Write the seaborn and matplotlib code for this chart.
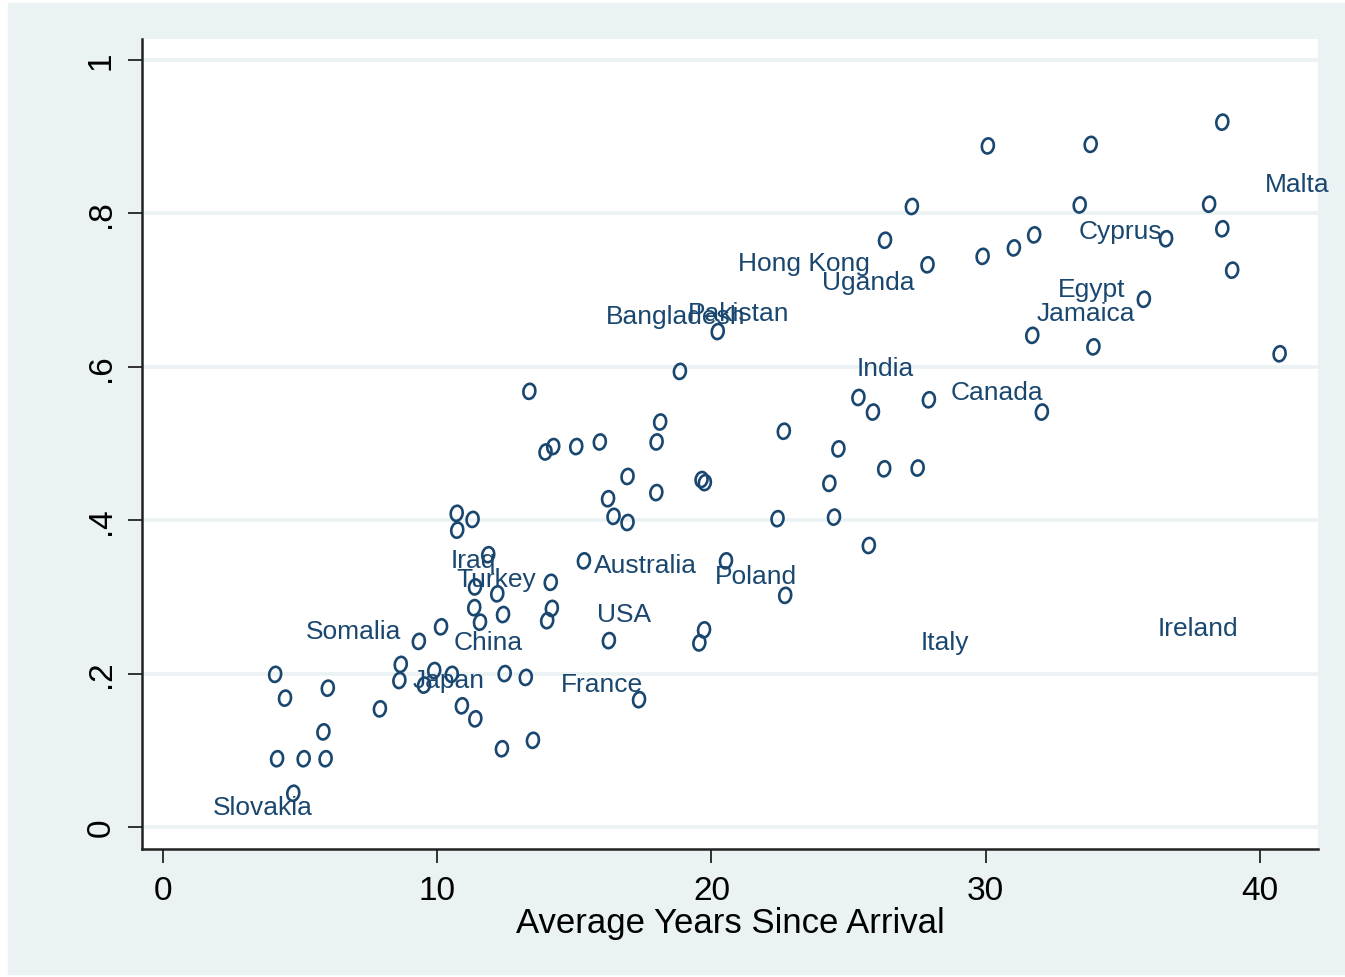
import numpy as np
import pandas as pd
import matplotlib.pyplot as plt
import seaborn as sns
from matplotlib.path import Path
from matplotlib.transforms import Affine2D

#-----------------------------------------------------------------------
# Data
years = [38.63, 30.08, 33.83, 27.31, 33.43, 38.15, 26.33, 31.77, 31.03, 29.89,
         27.88, 36.58, 38.63, 38.99, 35.77, 31.70, 33.93, 40.72, 25.36, 25.89,
         27.93, 32.05, 22.64, 24.63, 26.30, 27.52, 24.30, 22.41, 24.47, 25.74,
         20.23, 18.85, 18.13, 18.00, 15.93, 15.07, 14.23, 13.95, 13.36, 16.94,
         16.23, 17.99, 19.64, 19.76, 16.43, 16.94, 15.35, 20.53, 22.69, 16.26,
         19.73, 19.56, 17.36, 10.71, 11.29, 10.73, 11.86, 14.14, 11.38, 12.19,
         11.35, 12.40, 14.18, 14.01, 11.56, 10.14, 9.33, 8.67, 8.62, 9.89,
         10.53, 9.52, 12.46, 13.23, 4.09, 4.45, 6.01, 7.91, 10.90, 11.39,
         5.85, 4.16, 5.13, 5.93, 12.36, 13.49, 4.75]
share = [0.919, 0.888, 0.890, 0.809, 0.811, 0.812, 0.765, 0.772, 0.755, 0.744,
         0.733, 0.767, 0.780, 0.726, 0.688, 0.641, 0.626, 0.617, 0.560, 0.541,
         0.557, 0.541, 0.516, 0.493, 0.467, 0.468, 0.448, 0.402, 0.404, 0.367,
         0.646, 0.594, 0.528, 0.502, 0.502, 0.496, 0.496, 0.489, 0.568, 0.457,
         0.428, 0.436, 0.453, 0.449, 0.405, 0.397, 0.347, 0.347, 0.302, 0.243,
         0.257, 0.240, 0.166, 0.409, 0.401, 0.387, 0.355, 0.319, 0.313, 0.304,
         0.286, 0.277, 0.285, 0.269, 0.267, 0.261, 0.242, 0.212, 0.191, 0.204,
         0.199, 0.185, 0.200, 0.195, 0.199, 0.168, 0.181, 0.154, 0.158, 0.141,
         0.124, 0.089, 0.089, 0.089, 0.102, 0.113, 0.044]

countries = ['Malta', 'Cyprus', 'Hong Kong', 'Uganda', 'Egypt', 'Jamaica',
             'Bangladesh', 'Pakistan', 'India', 'Canada', 'Australia', 'Poland',
             'Iraq', 'Turkey', 'USA', 'Somalia', 'China', 'Italy', 'Ireland',
             'Japan', 'France', 'Slovakia']
country_years = [41.35, 34.92, 23.37, 25.73, 33.86, 33.64, 18.69, 20.98, 26.33, 30.41,
                 17.60, 21.61, 11.31, 12.17, 16.81, 6.94, 11.86, 28.51, 37.74,
                 10.40, 16.02, 3.64]
country_share = [0.841, 0.780, 0.738, 0.714, 0.705, 0.674, 0.670, 0.674, 0.602, 0.571,
                 0.345, 0.331, 0.352, 0.327, 0.281, 0.259, 0.244, 0.245, 0.263,
                 0.195, 0.190, 0.029]

y_ticks = [0, 0.2, 0.4, 0.6, 0.8, 1]
y_tick_labels = ['0', '.2', '.4', '.6', '.8', '1']
x_ticks = [0, 10, 20, 30, 40]

df = pd.DataFrame({'years': years, 'share': share})

#-----------------------------------------------------------------------
# Style
sns.set_theme(style="white")
plt.rcParams['font.family'] = ['Liberation Sans', 'DejaVu Sans']

navy = '#1A476F'
bg = '#EAF2F3'
axis_col = '#222222'

# slanted oval marker, like the "0" symbol in the original
circle = Path.unit_circle()
oval = Affine2D().scale(0.78, 1.0).rotate_deg(-10).transform_path(circle)

fig = plt.figure(figsize=(13.45, 9.78), dpi=100, facecolor='white')
fig.patches.append(plt.Rectangle((8 / 1345, 3 / 978), 1, 1 - 7 / 978,
                                 transform=fig.transFigure, color=bg, zorder=-10))
ax = fig.add_axes([142 / 1345, 128 / 978, 1176 / 1345, 810 / 978])
ax.set_facecolor('white')

#-----------------------------------------------------------------------
# Plot
sns.scatterplot(data=df, x='years', y='share', marker=oval,
                s=125, facecolor='none', edgecolor=navy, linewidth=1.9, ax=ax, zorder=3)

for name, cx, cy in zip(countries, country_years, country_share):
    ax.text(cx, cy, name, color=navy, fontsize=19, ha='center',
            va='center_baseline', zorder=4)

ax.set_xlim(-0.766, 42.12)
ax.set_ylim(-0.0287, 1.0274)
ax.set_xticks(x_ticks)
ax.set_yticks(y_ticks)
ax.set_yticklabels(y_tick_labels, rotation=90, va='center')

ax.yaxis.grid(True, color=bg, linewidth=2.6)
ax.xaxis.grid(False)
ax.set_axisbelow(True)

for side in ['top', 'right']:
    ax.spines[side].set_visible(False)
for side in ['left', 'bottom']:
    ax.spines[side].set_color(axis_col)
    ax.spines[side].set_linewidth(1.8)

ax.tick_params(axis='both', direction='out', length=10, width=1.3,
               color=axis_col, labelsize=24, labelcolor='black',
               left=True, bottom=True)
ax.tick_params(axis='x', pad=9)
ax.tick_params(axis='y', pad=8)

ax.set_xlabel('Average Years Since Arrival', fontsize=25, color='black', labelpad=0)
ax.set_ylabel('')

plt.savefig('out.png', dpi=100, facecolor=fig.get_facecolor())
plt.close()
